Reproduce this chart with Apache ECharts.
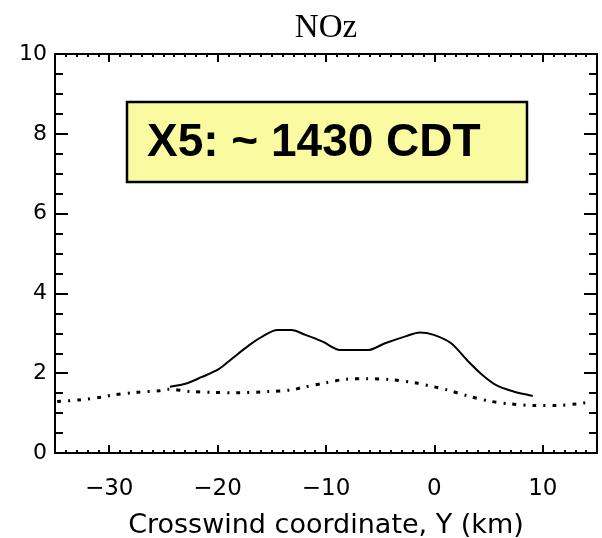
<!DOCTYPE html>
<html>
<head>
<meta charset="utf-8">
<script src="https://cdn.jsdelivr.net/npm/echarts@6/dist/echarts.min.js"></script>
<style>html,body{margin:0;padding:0;background:#fff}#c{width:602px;height:538px}</style>
</head>
<body>
<div id="c"></div>
<script>
// Data
const solidX = [-24.4,-22.8,-21.5,-19.9,-18.65,-17.05,-15.8,-14.5,-13.2,-11.9,-10.3,-8.7,-6.15,-4.55,-2.6,-1.35,-0.06,1.54,3.14,4.4,5.7,7.3,9.07];
const solidY = [1.66,1.75,1.90,2.10,2.37,2.71,2.93,3.08,3.08,2.96,2.79,2.58,2.58,2.75,2.93,3.02,2.96,2.75,2.29,1.96,1.70,1.54,1.43];
const dotX = [-34.8,-32.8,-30.7,-29.7,-27.6,-25.4,-24.6,-22.5,-20.4,-18.3,-15.3,-13.2,-12.2,-10.0,-8.1,-6.15,-4.1,-1.8,-0.06,1.2,3.1,5.1,7.0,9.2,11.2,13.1,14.4];
const dotY = [1.29,1.33,1.40,1.45,1.52,1.56,1.60,1.54,1.52,1.51,1.54,1.58,1.64,1.76,1.85,1.86,1.84,1.76,1.66,1.58,1.43,1.30,1.23,1.19,1.19,1.23,1.28];
const xMajorTicks = [-30,-20,-10,0,10];
const yTicks = [0,2,4,6,8,10];
const titleText = 'NOz';
const xAxisName = 'Crosswind coordinate, Y (km)';
const noteText = 'X5: ~ 1430 CDT';

const zip = (xs, ys) => xs.map((x, i) => [x, ys[i]]);
const axLine = {show: true, onZero: false, lineStyle: {color: '#000', width: 2}};

const chart = echarts.init(document.getElementById('c'), null, {renderer: 'canvas'});
chart.setOption({
  animation: false,
  backgroundColor: '#fff',
  grid: {left: 55, right: 5, top: 54, bottom: 85, containLabel: false, outerBoundsMode: 'none'},
  xAxis: [
    { // bottom: minor ticks + labels
      type: 'value', position: 'bottom', min: -35, max: 15, interval: 1,
      axisLine: axLine, splitLine: {show: false},
      axisTick: {show: true, inside: true, length: 3, lineStyle: {color: '#000', width: 2}},
      axisLabel: {show: true, margin: 25, fontFamily: 'DejaVu Sans', fontSize: 23, color: '#000',
        formatter: v => (v % 10 === 0 && v > -35 && v < 15) ? (v < 0 ? '\u2212' + Math.abs(v) : String(v)) : ''},
      name: xAxisName, nameLocation: 'middle', nameGap: 59,
      nameTextStyle: {fontFamily: 'DejaVu Sans', fontSize: 27, color: '#000'}
    },
    { // bottom: major ticks
      type: 'value', position: 'bottom', min: -35, max: 15, interval: 10,
      axisLine: {show: false, onZero: false}, splitLine: {show: false}, axisLabel: {show: false},
      axisTick: {show: true, inside: true, length: 8, customValues: xMajorTicks, lineStyle: {color: '#000', width: 2}}
    },
    { // top: minor ticks
      type: 'value', position: 'top', min: -35, max: 15, interval: 1,
      axisLine: axLine, splitLine: {show: false}, axisLabel: {show: false},
      axisTick: {show: true, inside: true, length: 3, lineStyle: {color: '#000', width: 2}}
    },
    { // top: major ticks
      type: 'value', position: 'top', min: -35, max: 15, interval: 10,
      axisLine: {show: false, onZero: false}, splitLine: {show: false}, axisLabel: {show: false},
      axisTick: {show: true, inside: true, length: 8, customValues: xMajorTicks, lineStyle: {color: '#000', width: 2}}
    }
  ],
  yAxis: [
    {
      type: 'value', position: 'left', min: 0, max: 10, interval: 2,
      axisLine: axLine, splitLine: {show: false},
      axisTick: {show: true, inside: true, length: 13, lineStyle: {color: '#000', width: 2}},
      minorTick: {show: true, splitNumber: 4, length: 8, lineStyle: {color: '#000', width: 2}},
      minorSplitLine: {show: false},
      axisLabel: {show: true, margin: 8, fontFamily: 'DejaVu Sans', fontSize: 22, color: '#000',
        formatter: v => yTicks.includes(v) ? String(v) : ''}
    },
    {
      type: 'value', position: 'right', min: 0, max: 10, interval: 2,
      axisLine: axLine, splitLine: {show: false},
      axisTick: {show: true, inside: true, length: 13, lineStyle: {color: '#000', width: 2}},
      minorTick: {show: true, splitNumber: 4, length: 8, lineStyle: {color: '#000', width: 2}},
      minorSplitLine: {show: false},
      axisLabel: {show: false}
    }
  ],
  series: [
    {
      type: 'line', xAxisIndex: 0, yAxisIndex: 0, data: zip(solidX, solidY),
      smooth: 0.3, showSymbol: false, symbol: 'none',
      lineStyle: {color: '#000', width: 2, type: 'solid'}
    },
    {
      type: 'line', xAxisIndex: 0, yAxisIndex: 0, data: zip(dotX, dotY),
      smooth: 0.3, showSymbol: false, symbol: 'none',
      lineStyle: {color: '#000', width: 3, type: [4, 7, 2, 7], cap: 'butt'}
    }
  ],
  graphic: [
    {type: 'text', x: 326, y: 28, style: {text: titleText, fontFamily: 'Liberation Serif', fontSize: 33, fill: '#000', align: 'center', verticalAlign: 'middle'}},
    {type: 'rect', shape: {x: 127, y: 102, width: 400, height: 80},
      style: {fill: '#FAFAA0', stroke: '#000', lineWidth: 2.5}, z: 10},
    {type: 'text', x: 147, y: 143, style: {text: noteText, fontFamily: 'Liberation Sans', fontWeight: 'bold', fontSize: 46, fill: '#000', align: 'left', verticalAlign: 'middle'}, z: 11}
  ]
});
</script>
</body>
</html>
